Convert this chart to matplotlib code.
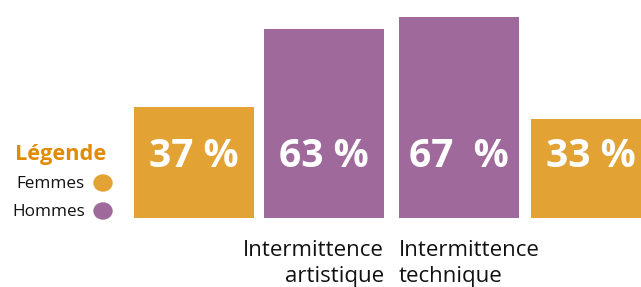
import matplotlib
matplotlib.use("Agg")
import matplotlib.pyplot as plt
from matplotlib.patches import Ellipse

categories = ["Intermittence\nartistique", "Intermittence\ntechnique"]
series_order = [["Femmes", "Hommes"], ["Hommes", "Femmes"]]
values = [[37, 63], [67, 33]]
value_labels = [["37 %", "63 %"], ["67  %", "33 %"]]
legend_names = ["Femmes", "Hommes"]
legend_title = "Légende"

colors = {"Femmes": "#E2A334", "Hommes": "#A0699B"}
FONT = "Open Sans"

W, H = 641, 287
fig = plt.figure(figsize=(W / 100, H / 100), dpi=100)
ax_bottom_px = 218
ax_h_px = 210
ax = fig.add_axes([0, (H - ax_bottom_px) / H, 1, ax_h_px / H])
ax.set_xlim(0, W)
ax.set_ylim(0, 70)
ax.axis("off")

centers = [[194, 324], [459, 591]]
bw = 120
for g in range(2):
    for i in range(2):
        s = series_order[g][i]
        ax.bar(centers[g][i], values[g][i], width=bw, color=colors[s], clip_on=False)
        ax.text(centers[g][i], 17, value_labels[g][i], ha="center", va="baseline",
                color="white", fontsize=28, fontweight="bold", family=FONT)

# category labels
for g, (x, ha) in enumerate([(384, "right"), (399, "left")]):
    for j, line in enumerate(categories[g].split("\n")):
        fig.text(x / W, 1 - (256 + 26 * j) / H, line, ha=ha, va="baseline",
                 fontsize=16, family=FONT, color="#111111")

# legend
fig.text(15 / W, 1 - 160 / H, legend_title, ha="left", va="baseline", fontsize=15.7,
         fontweight="bold", family=FONT, color="#E08B00")
for k, name in enumerate(legend_names):
    y = 183 + k * 28
    fig.text(85 / W, 1 - (y + 5) / H, name, ha="right", va="baseline", fontsize=12.3,
             family=FONT, color="#111111")
    fig.patches.append(Ellipse((103 / W, 1 - y / H), 18 / W, 16 / H,
                               transform=fig.transFigure, color=colors[name]))

fig.savefig("out.png", dpi=100, facecolor="white")
